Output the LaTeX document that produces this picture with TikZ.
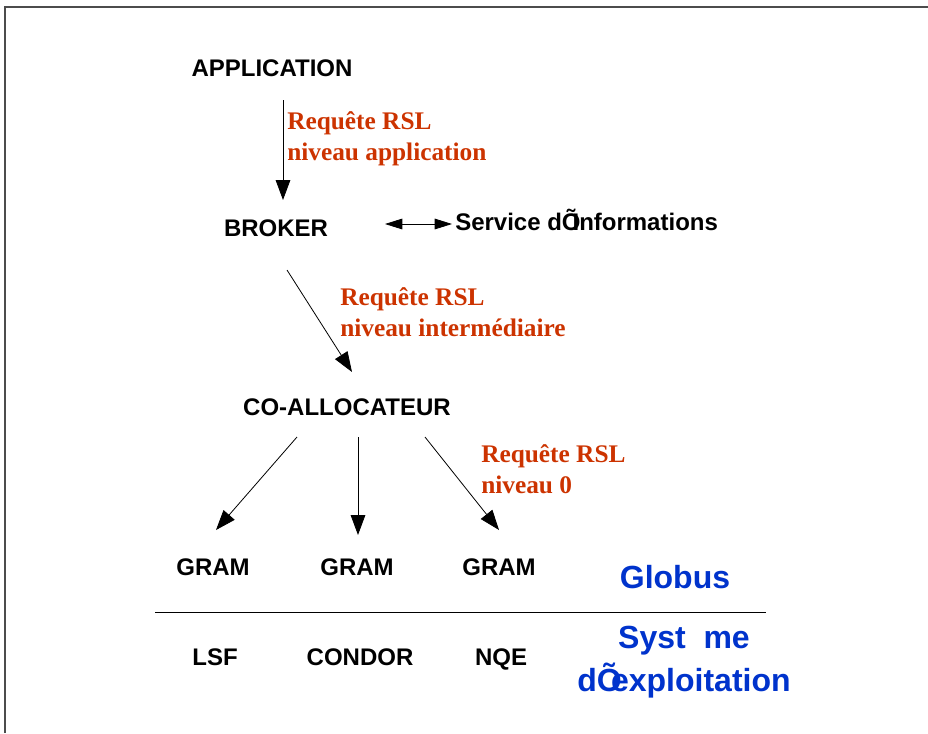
\documentclass[tikz,border=0pt]{standalone}
\usepackage{fontspec}
\setmainfont{Liberation Serif}
\setsansfont{Liberation Sans}
\usetikzlibrary{arrows.meta,calc}
\definecolor{rslred}{RGB}{204,51,0}
\definecolor{osblue}{RGB}{0,51,204}

\begin{document}
\begin{tikzpicture}[
  x = 0.75pt, y = -0.75pt,
  every node/.style = {inner sep = 0pt},
  layer/.style = {font = \sffamily\bfseries\fontsize{18}{22}\selectfont,
                  text height = 13pt, text depth = 0pt},
  request/.style = {anchor = west, align = left, text = rslred,
                    font = \bfseries\fontsize{19}{23.5}\selectfont},
  system/.style = {align = center, text = osblue,
                   font = \sffamily\bfseries\fontsize{24}{32}\selectfont},
  flow/.style = {-{Triangle[length = 15pt, width = 11pt]}, line width = 0.6pt},
  both/.style = {{Triangle[length = 13pt, width = 8pt]}-{Triangle[length = 13pt, width = 8pt]}, line width = 0.6pt}
  ]
  \useasboundingbox (0,0) rectangle (928,733);
  %frame
  \draw[gray!60!black, line width = 0.8pt] (5,733) -- (5,7) -- (928,7);

  %globus layers
  \node[layer] (app) at (272,68) {APPLICATION};
  \node[layer] (broker) at (276,228) {BROKER};
  \node[layer, anchor = west] (info) at (455,222) {Service d\makebox[0.44em][l]{Õ}Informations};
  \node[layer] (coall) at (347,407) {CO-ALLOCATEUR};
  \node[layer] (gram1) at (213,567) {GRAM};
  \node[layer] (gram2) at (357,567) {GRAM};
  \node[layer] (gram3) at (499,567) {GRAM};
  \node[system] (globus) at (675,577) {Globus};

  %requests
  \node[request] (req1) at (287,139) {Requête RSL\\niveau  application};
  \node[request] (req2) at (340,312) {Requête RSL\\niveau intermédiaire};
  \node[request] (req3) at (481,469) {Requête RSL\\niveau 0};

  %os layer
  \draw[line width = 0.6pt] (155,612) -- (766,612);
  \node[layer] (lsf) at (215,657) {LSF};
  \node[layer] (condor) at (360,657) {CONDOR};
  \node[layer] (nqe) at (501,657) {NQE};
  \node[system] (os) at (684,662) {Syst~~me\\d\makebox[0.44em][l]{Õ}exploitation};

  \draw[flow] ($(app)+(11,32)$) -- ($(broker)+(7,-28)$);
  \draw[both] ($(broker)+(109,-4)$) -- ($(info.west)+(-3,2)$);
  \draw[flow] ($(broker)+(11,42)$) -- ($(coall)+(5,-35)$);
  \draw[flow] ($(coall)+(-50,30)$) -- ($(gram1)+(3,-37)$);
  \draw[flow] ($(coall)+(11,30)$) -- ($(gram2)+(1,-32)$);
  \draw[flow] ($(coall)+(78,30)$) -- ($(gram3)+(0,-37)$);
\end{tikzpicture}
\end{document}
